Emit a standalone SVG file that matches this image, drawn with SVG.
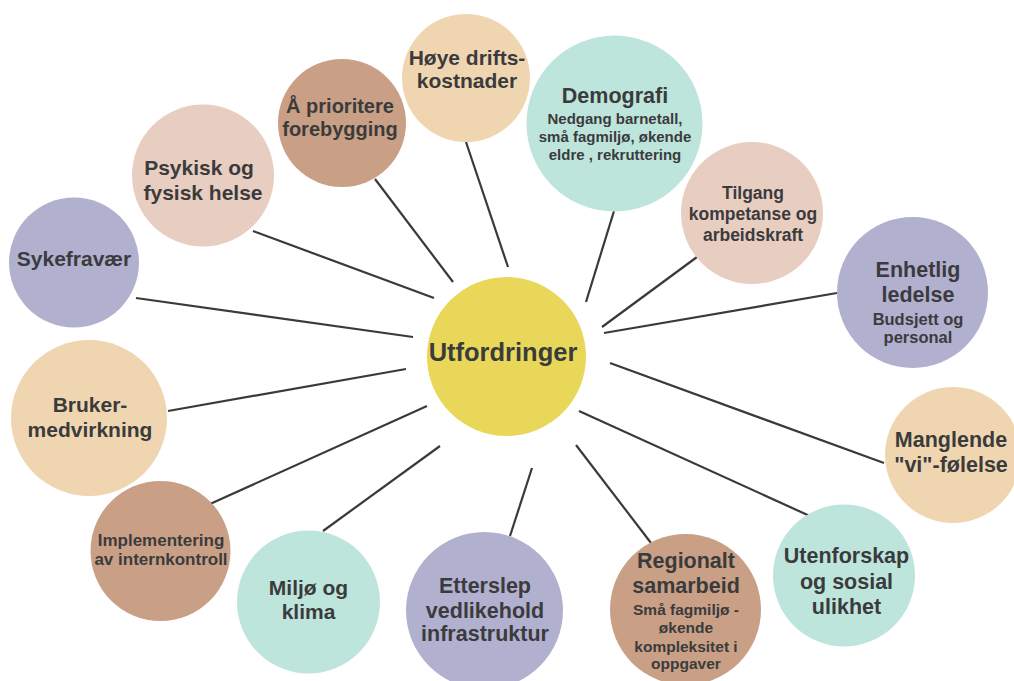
<svg xmlns="http://www.w3.org/2000/svg" width="1014" height="681" viewBox="0 0 1014 681">
<style>
.bg{fill:#ffffff}
.yel{fill:#E9D75A}
.tan{fill:#F0D6B0}
.brn{fill:#C9A085}
.pnk{fill:#E8CDC1}
.lav{fill:#B1B0CF}
.mnt{fill:#BDE5DC}
text{font-family:"Liberation Sans",Arial,sans-serif;font-weight:700;fill:#3b3b3d;text-anchor:middle}
.t{font-size:21px}
.s{font-size:15.5px}
.m{font-size:17.5px}
.c{font-size:25.5px}
.conn line{stroke:#3a3a3a;stroke-width:2.2;stroke-linecap:butt}
</style>
<rect class="bg" x="0" y="0" width="1014" height="681"/>
<g id="connectors" class="conn">
<line x1="466" y1="142" x2="508" y2="267"/>
<line x1="375" y1="179" x2="453" y2="282"/>
<line x1="253" y1="231" x2="434" y2="298"/>
<line x1="136" y1="298" x2="413" y2="337"/>
<line x1="614" y1="211" x2="586" y2="302"/>
<line x1="697" y1="257" x2="602" y2="327"/>
<line x1="837" y1="293" x2="604" y2="333"/>
<line x1="610" y1="363" x2="884" y2="463"/>
<line x1="579" y1="411" x2="812" y2="517"/>
<line x1="576" y1="445" x2="651" y2="543"/>
<line x1="532" y1="468" x2="510" y2="536"/>
<line x1="168" y1="411" x2="406" y2="369"/>
<line x1="210" y1="504" x2="427" y2="406"/>
<line x1="323" y1="531" x2="440" y2="446"/>
</g>
<g id="center">
<circle class="yel" cx="506.5" cy="356.5" r="79.5"/>
<text class="c" x="503" y="361">Utfordringer</text>
</g>
<g id="hoye">
<circle class="tan" cx="466" cy="78" r="64"/>
<text class="t" x="467" y="65">Høye drifts-</text>
<text class="t" x="467" y="88">kostnader</text>
</g>
<g id="prioritere">
<circle class="brn" cx="342" cy="123" r="64"/>
<text class="t" x="340" y="113" style="font-size:20px">Å prioritere</text>
<text class="t" x="340" y="136" style="font-size:20px">forebygging</text>
</g>
<g id="psykisk">
<circle class="pnk" cx="203" cy="175.5" r="71"/>
<text class="t" x="199" y="175">Psykisk og</text>
<text class="t" x="203" y="200">fysisk helse</text>
</g>
<g id="sykefravaer">
<circle class="lav" cx="74" cy="262.5" r="65"/>
<text class="t" x="74" y="266">Sykefravær</text>
</g>
<g id="demografi">
<circle class="mnt" cx="614.5" cy="123.5" r="88"/>
<text class="t" x="615" y="103" style="font-size:21.5px">Demografi</text>
<text class="s" x="615" y="124" style="font-size:15px">Nedgang barnetall,</text>
<text class="s" x="615" y="142" style="font-size:15px">små fagmiljø, økende</text>
<text class="s" x="615" y="160" style="font-size:15px">eldre , rekruttering</text>
</g>
<g id="tilgang">
<circle class="pnk" cx="752" cy="213" r="71"/>
<text class="m" x="753" y="199">Tilgang</text>
<text class="m" x="753" y="220">kompetanse og</text>
<text class="m" x="753" y="241">arbeidskraft</text>
</g>
<g id="enhetlig">
<circle class="lav" cx="912.5" cy="292.5" r="75.5"/>
<text class="t" x="918" y="277" style="font-size:21.5px">Enhetlig</text>
<text class="t" x="918" y="302" style="font-size:21.5px">ledelse</text>
<text class="s" x="918" y="325" style="font-size:16.5px">Budsjett og</text>
<text class="s" x="918" y="343" style="font-size:16.5px">personal</text>
</g>
<g id="manglende">
<circle class="tan" cx="953" cy="455" r="68"/>
<text class="t" x="951" y="447" style="font-size:21.5px">Manglende</text>
<text class="t" x="951" y="472" style="font-size:21.5px">"vi"-følelse</text>
</g>
<g id="utenforskap">
<circle class="mnt" cx="844" cy="575.5" r="71"/>
<text class="t" x="846.5" y="563" style="font-size:21.5px">Utenforskap</text>
<text class="t" x="846.5" y="589" style="font-size:21.5px">og sosial</text>
<text class="t" x="846.5" y="614" style="font-size:21.5px">ulikhet</text>
</g>
<g id="regionalt">
<circle class="brn" cx="685.5" cy="609.5" r="75.5"/>
<text class="t" x="686" y="568" style="font-size:21.5px">Regionalt</text>
<text class="t" x="686" y="593" style="font-size:21.5px">samarbeid</text>
<text class="s" x="686" y="615">Små fagmiljø -</text>
<text class="s" x="686" y="633">økende</text>
<text class="s" x="686" y="652">kompleksitet i</text>
<text class="s" x="686" y="669">oppgaver</text>
</g>
<g id="etterslep">
<circle class="lav" cx="484.5" cy="610.5" r="78.5"/>
<text class="t" x="485" y="593" style="font-size:21.5px">Etterslep</text>
<text class="t" x="485" y="618" style="font-size:21.5px">vedlikehold</text>
<text class="t" x="485" y="641" style="font-size:21.5px">infrastruktur</text>
</g>
<g id="miljo">
<circle class="mnt" cx="308.5" cy="602" r="71.5"/>
<text class="t" x="308.5" y="595">Miljø og</text>
<text class="t" x="308.5" y="619">klima</text>
</g>
<g id="implementering">
<circle class="brn" cx="160.5" cy="551" r="70"/>
<text class="m" x="161" y="546" style="font-size:17px">Implementering</text>
<text class="m" x="161" y="565" style="font-size:17px">av internkontroll</text>
</g>
<g id="bruker">
<circle class="tan" cx="89" cy="418" r="78"/>
<text class="t" x="90" y="412">Bruker-</text>
<text class="t" x="90" y="437">medvirkning</text>
</g>
</svg>
